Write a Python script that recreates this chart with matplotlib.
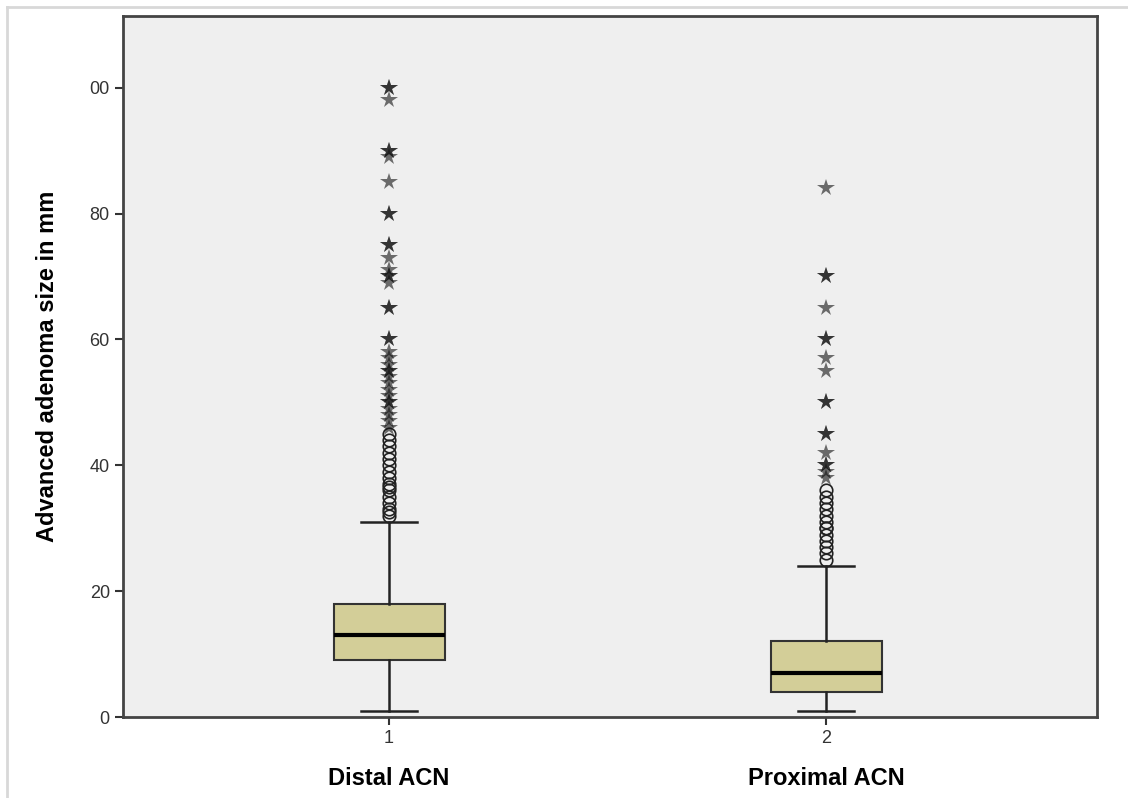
import matplotlib.pyplot as plt
import numpy as np

plt.rcParams['font.family'] = ['Liberation Sans', 'DejaVu Sans']

# group labels and box statistics (mm)
groups = ['Distal ACN', 'Proximal ACN']
tick_labels = ['1', '2']
q1 = [9, 4]
median = [13, 7]
q3 = [18, 12]
whis_lo = [1, 1]
whis_hi = [31, 24]

# outliers (circles) and extreme values (stars)
distal_out = [32, 32.5, 33, 34, 35, 36, 36.5, 37, 38, 39, 40, 41, 42, 43, 44, 45]
distal_ext = [100, 100, 98, 90, 90, 89, 85, 80, 80, 75, 75, 73, 71, 70, 70, 69,
              65, 65, 60, 60, 58, 57, 56, 55, 55, 54, 53, 52, 51, 50, 50, 49,
              48, 47, 46]
prox_out = [25, 26, 27, 28, 29, 30, 30, 31, 32, 33, 34, 35, 36]
prox_ext = [84, 70, 70, 65, 60, 60, 57, 55, 50, 50, 45, 45, 42, 40, 40, 39, 38]

yticks = [0, 20, 40, 60, 80, 100]
ytick_labels = ['0', '20', '40', '60', '80', '00']

fig = plt.figure(figsize=(11.28, 7.98), dpi=100)
ax = fig.add_axes([0.109, 0.1015, 0.8635, 0.8785])
ax.set_facecolor('#efefef')

stats = []
for i in range(2):
    stats.append(dict(med=median[i], q1=q1[i], q3=q3[i],
                      whislo=whis_lo[i], whishi=whis_hi[i], fliers=[]))

ax.bxp(stats, positions=[1, 2], widths=0.254, patch_artist=True,
       showfliers=False,
       boxprops=dict(facecolor='#d3ce98', edgecolor='#333333', linewidth=1.5),
       medianprops=dict(color='black', linewidth=3),
       whiskerprops=dict(color='#222222', linewidth=1.8),
       capprops=dict(color='#222222', linewidth=1.8),
       capwidths=0.13)

outs = [distal_out, prox_out]
exts = [distal_ext, prox_ext]
for i, pos in enumerate([1, 2]):
    ax.plot([pos] * len(outs[i]), outs[i], 'o', mfc='none', mec='#222222',
            ms=9, mew=1.2, zorder=3)
    ax.plot([pos] * len(exts[i]), exts[i], '*', color='#111111', alpha=0.6,
            ms=13, mew=0, zorder=3)

ax.set_xlim(0.391, 2.62)
ax.set_ylim(0, 111.4)
ax.set_xticks([1, 2])
ax.set_xticklabels(tick_labels, fontsize=13, color='#333333')
ax.set_yticks(yticks)
ax.set_yticklabels(ytick_labels, fontsize=13, color='#333333')
ax.tick_params(axis='both', length=6, width=1.5, color='#333333')

for s in ax.spines.values():
    s.set_color('#444444')
    s.set_linewidth(2)

ax.set_ylabel('Advanced adenoma size in mm', fontsize=17, fontweight='bold',
              labelpad=22)

for i, g in enumerate(groups):
    ax.text(i + 1, -0.088, g, transform=ax.get_xaxis_transform(),
            ha='center', va='center', fontsize=17, fontweight='bold')

# light frame around the picture
fig.add_artist(plt.Line2D([7 / 1128, 1127 / 1128], [1 - 7 / 798, 1 - 7 / 798],
                          transform=fig.transFigure, color='#d8d8d8', lw=2))
fig.add_artist(plt.Line2D([7 / 1128, 7 / 1128], [0, 1 - 7 / 798],
                          transform=fig.transFigure, color='#d8d8d8', lw=2))

fig.savefig('out.png', dpi=100)
